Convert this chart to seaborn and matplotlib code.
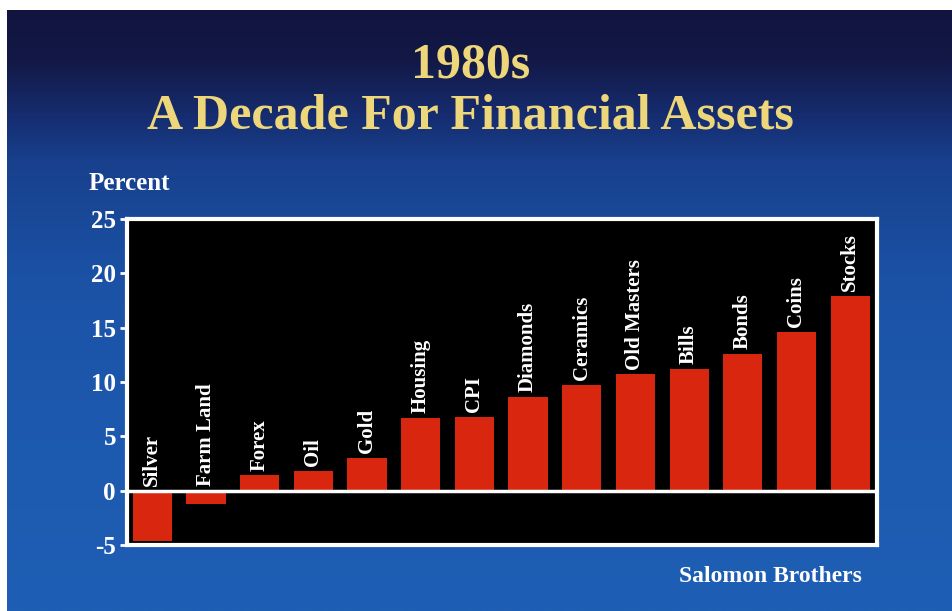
import numpy as np
import pandas as pd
import matplotlib
matplotlib.use("Agg")
import matplotlib.pyplot as plt
from matplotlib.colors import LinearSegmentedColormap
import seaborn as sns

assets = ["Silver", "Farm Land", "Forex", "Oil", "Gold", "Housing", "CPI",
          "Diamonds", "Ceramics", "Old Masters", "Bills", "Bonds", "Coins", "Stocks"]
returns = [-4.6, -1.2, 1.4, 1.8, 3.0, 6.7, 6.8, 8.6, 9.7, 10.7, 11.2, 12.6, 14.6, 17.9]
y_ticks = [-5, 0, 5, 10, 15, 20, 25]

df = pd.DataFrame({"asset": assets, "ret": returns})

sns.set_theme(style="white")
plt.rcParams["font.family"] = ["Liberation Serif", "DejaVu Serif"]
plt.rcParams["font.weight"] = "bold"

fig = plt.figure(figsize=(9.52, 6.11), dpi=100, facecolor="white")

# gradient backdrop, leaving the thin white margin at top and left
bg = fig.add_axes([7 / 952, 0, 1 - 7 / 952, 1 - 10 / 611])
cmap = LinearSegmentedColormap.from_list(
    "slide", [(0.0, "#121440"), (0.08, "#131845"), (0.18, "#162e72"),
              (0.25, "#18408c"), (0.45, "#1b52a6"), (0.75, "#1d5bb0"),
              (1.0, "#1e5eb4")])
grad = np.linspace(0, 1, 256).reshape(-1, 1)
bg.imshow(grad, aspect="auto", cmap=cmap, extent=[0, 1, 0, 1], origin="upper")
bg.set_axis_off()

ax = fig.add_axes([127 / 952, 1 - 545 / 611, 750 / 952, 326 / 611])
sns.barplot(data=df, x="asset", y="ret", color="#d8260f", saturation=1,
            width=0.73, ax=ax, zorder=2, edgecolor="none", linewidth=0)
ax.set_facecolor("black")
ax.set_xlim(-0.47, len(assets) - 0.5)
ax.set_ylim(-5, 25)
ax.set_yticks(y_ticks)
ax.set_yticklabels([str(t) for t in y_ticks], color="white", fontsize=18,
                   fontweight="bold")
ax.set_xticks([])
ax.set_xlabel("")
ax.set_ylabel("")
ax.tick_params(axis="y", colors="white", length=5, width=2, pad=3, left=True)
for s in ax.spines.values():
    s.set_color("white")
    s.set_linewidth(3)
ax.axhline(0, color="white", lw=2.5, zorder=3)

for i, (name, v) in enumerate(zip(assets, returns)):
    ax.text(i, max(v, 0) + 0.45, name, rotation=90, ha="center", va="bottom",
            color="white", fontsize=15, fontweight="bold", zorder=4)

title_color = "#eed67a"
fig.text(0.494, 1 - 66 / 611, "1980s", ha="center", va="center",
         color=title_color, fontsize=36, fontweight="bold")
fig.text(0.494, 1 - 117 / 611, "A Decade For Financial Assets", ha="center",
         va="center", color=title_color, fontsize=36, fontweight="bold")
fig.text(89 / 952, 1 - 184 / 611, "Percent", ha="left", va="center",
         color="white", fontsize=18, fontweight="bold")
fig.text(862 / 952, 1 - 577 / 611, "Salomon Brothers", ha="right", va="center",
         color="white", fontsize=17, fontweight="bold")

fig.savefig("out.png", dpi=100, facecolor="white")
